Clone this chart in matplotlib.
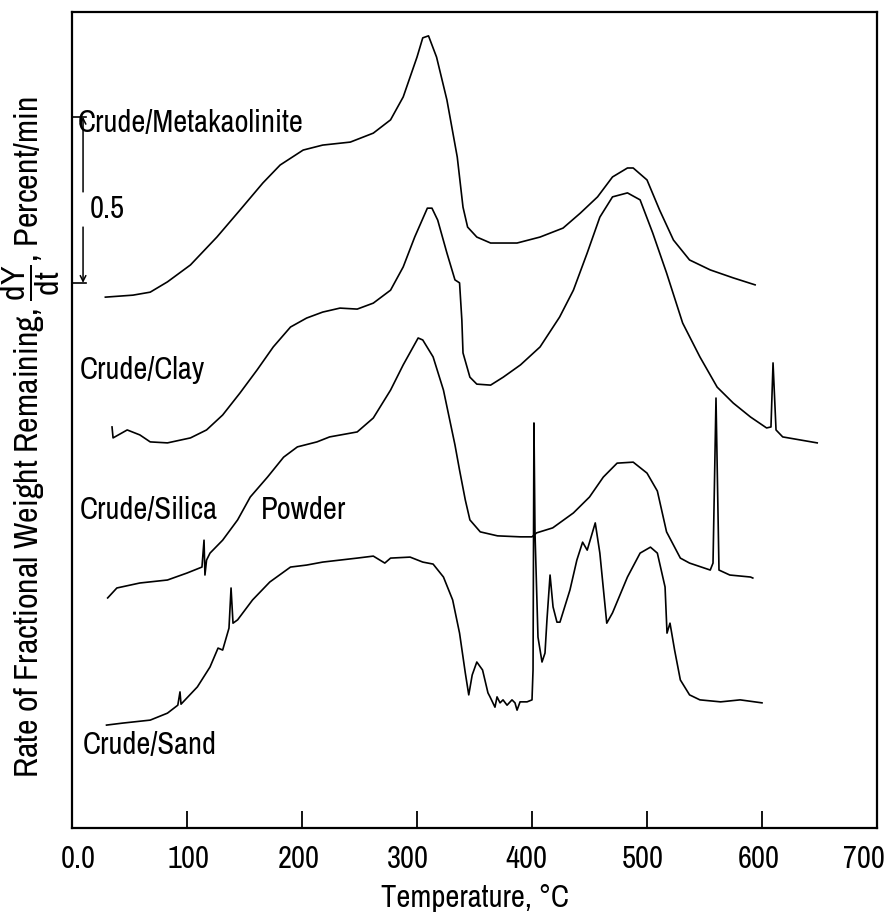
import matplotlib
matplotlib.use("Agg")
import matplotlib.pyplot as plt
from matplotlib import font_manager
from matplotlib.transforms import ScaledTranslation

# use a condensed sans face when one is installed
faces = font_manager.fontManager.ttflist
narrow = [f.name for f in faces if 'Narrow' in f.name or 'Condensed' in f.name]
cond_dejavu = any(f.name == 'DejaVu Sans' and f.stretch == 'condensed' for f in faces)
if narrow:
    FAMILY = [narrow[0], 'DejaVu Sans']
else:
    FAMILY = ['DejaVu Sans']
    if cond_dejavu:
        plt.rcParams['font.stretch'] = 'condensed'
plt.rcParams['font.family'] = FAMILY
plt.rcParams['mathtext.fontset'] = 'custom'
plt.rcParams['mathtext.rm'] = FAMILY[0]
plt.rcParams['mathtext.it'] = FAMILY[0]

# temperature (deg C) and offset rate traces (percent/min, stacked)
meta_t = [29, 53, 68, 83, 103, 126, 146, 166, 181, 201, 218, 242, 262, 277, 288, 300, 305, 310,
          317, 326, 335, 340, 344, 352, 364, 387, 407, 427, 442, 457, 470, 483, 488, 500, 511,
          523, 537, 555, 575, 594]
meta_y = [1.599, 1.605, 1.614, 1.645, 1.696, 1.780, 1.861, 1.943, 1.997, 2.042, 2.057, 2.066,
          2.093, 2.133, 2.202, 2.322, 2.380, 2.386, 2.322, 2.193, 2.021, 1.870, 1.810, 1.780,
          1.762, 1.762, 1.780, 1.807, 1.852, 1.901, 1.961, 1.988, 1.988, 1.952, 1.861, 1.771,
          1.711, 1.681, 1.657, 1.636]

clay_t = [34.8, 35.7, 48, 59, 68, 83, 103, 117, 131, 146, 161, 175, 190, 204, 218, 233, 248, 262,
          277, 288, 298, 309, 313, 318, 326, 333, 337, 339, 340, 346, 352, 364, 375, 390, 407,
          424, 436, 448, 459, 470, 483, 494, 505, 517, 531, 546, 561, 575, 590, 604, 607.8,
          609.6, 612.2, 618, 633, 648]
clay_y = [1.208, 1.175, 1.199, 1.184, 1.163, 1.160, 1.175, 1.199, 1.244, 1.310, 1.380, 1.449,
          1.509, 1.536, 1.554, 1.566, 1.563, 1.581, 1.620, 1.690, 1.780, 1.867, 1.867, 1.831,
          1.732, 1.651, 1.642, 1.530, 1.431, 1.358, 1.337, 1.334, 1.358, 1.395, 1.449, 1.539,
          1.620, 1.732, 1.840, 1.901, 1.913, 1.892, 1.792, 1.672, 1.521, 1.419, 1.328, 1.280,
          1.238, 1.205, 1.208, 1.401, 1.199, 1.178, 1.169, 1.160]

silica_t = [31, 39, 59, 83, 100, 113, 114.8, 115.6, 117, 120, 131, 144, 155, 170, 184, 196, 213,
            224, 248, 262, 277, 288, 301, 305, 314, 323, 333, 337, 342, 346, 355, 370, 390, 400,
            404, 418, 436, 450, 462, 474, 488, 500, 509, 517, 529, 537, 555, 557.4, 560, 562.6,
            572, 590, 592]
silica_y = [0.693, 0.723, 0.738, 0.747, 0.768, 0.786, 0.867, 0.762, 0.807, 0.828, 0.867, 0.928,
            0.997, 1.057, 1.117, 1.148, 1.163, 1.178, 1.193, 1.235, 1.319, 1.395, 1.476, 1.470,
            1.419, 1.319, 1.154, 1.078, 0.988, 0.928, 0.892, 0.880, 0.877, 0.877, 0.889, 0.904,
            0.949, 0.997, 1.057, 1.099, 1.102, 1.069, 1.015, 0.892, 0.813, 0.798, 0.777, 0.798,
            1.295, 0.777, 0.762, 0.756, 0.753]

sand_t = [30, 44, 68, 83, 92, 93.9, 94.8, 109, 120, 127, 131, 136.5, 138.3, 140, 144, 157, 172,
          190, 204, 218, 248, 262, 272, 277, 294, 305, 314, 323, 331, 337, 342, 345, 348, 352,
          357, 361.7, 363.5, 367.8, 369.6, 372.2, 374.8, 378.3, 382.6, 385.2, 387, 389.6, 395.7,
          400, 400.9, 401.7, 402.6, 405.2, 408.7, 411.3, 413, 415.7, 418.3, 421.7, 424.3, 433,
          439, 444, 448, 455, 459, 465, 470, 483, 494, 503, 509, 515.7, 517.4, 520, 524, 529,
          537, 546, 564, 581, 600]
sand_y = [0.310, 0.316, 0.325, 0.346, 0.370, 0.410, 0.373, 0.425, 0.485, 0.542, 0.536, 0.602,
          0.723, 0.617, 0.627, 0.687, 0.741, 0.786, 0.792, 0.801, 0.813, 0.819, 0.798, 0.813,
          0.816, 0.801, 0.795, 0.756, 0.687, 0.587, 0.467, 0.401, 0.461, 0.500, 0.476, 0.407,
          0.395, 0.364, 0.395, 0.377, 0.386, 0.370, 0.386, 0.377, 0.355, 0.380, 0.380, 0.386,
          0.476, 1.220, 0.889, 0.575, 0.500, 0.527, 0.627, 0.762, 0.666, 0.620, 0.620, 0.717,
          0.807, 0.861, 0.837, 0.919, 0.828, 0.617, 0.648, 0.756, 0.828, 0.846, 0.828, 0.726,
          0.587, 0.617, 0.536, 0.446, 0.401, 0.386, 0.380, 0.386, 0.377]

x_ticks = [0, 100, 200, 300, 400, 500, 600, 700]
x_tick_labels = ['0.0', '100', '200', '300', '400', '500', '600', '700']

fig = plt.figure(figsize=(8.89, 9.19), dpi=100)
ax = fig.add_axes([0.081, 0.099, 0.9055, 0.888])

for t, y in [(meta_t, meta_y), (clay_t, clay_y), (silica_t, silica_y), (sand_t, sand_y)]:
    ax.plot(t, y, color='black', linewidth=1.2)

fs = 22
ax.text(5, 2.123, 'Crude/Metakaolinite', fontsize=fs, va='center', ha='left')
ax.text(7, 1.380, 'Crude/Clay', fontsize=fs, va='center', ha='left')
ax.text(7, 0.958, 'Crude/Silica', fontsize=fs, va='center', ha='left')
ax.text(164, 0.958, 'Powder', fontsize=fs, va='center', ha='left')
ax.text(9.5, 0.25, 'Crude/Sand', fontsize=fs, va='center', ha='left')

# 0.5 percent/min scale bar
bar_x, bar_top, bar_bot = 9.6, 2.142, 1.642
ax.plot([0, bar_x + 3], [bar_top, bar_top], color='black', linewidth=1.2)
ax.plot([0, bar_x + 3], [bar_bot, bar_bot], color='black', linewidth=1.2)
ax.annotate('', xy=(bar_x, bar_top), xytext=(bar_x, 1.916),
            arrowprops=dict(arrowstyle='->', color='black', lw=1.1, shrinkA=0, shrinkB=0))
ax.annotate('', xy=(bar_x, bar_bot), xytext=(bar_x, 1.810),
            arrowprops=dict(arrowstyle='->', color='black', lw=1.1, shrinkA=0, shrinkB=0))
ax.text(15.5, 1.865, '0.5', fontsize=fs, va='center', ha='left')

ax.set_xlim(0, 700)
ax.set_ylim(0, 2.458)
ax.set_xticks(x_ticks)
ax.set_xticklabels(x_tick_labels, fontsize=fs)
ax.set_yticks([])
ax.tick_params(axis='x', direction='in', length=12, width=1.3, pad=12)
for s in ax.spines.values():
    s.set_linewidth(1.6)

# nudge the tick labels; the last one has to stay inside the figure
shifts = [6, 1, -3, -9, -6, -4, -3, -13]
for lab, dx in zip(ax.get_xticklabels(), shifts):
    lab.set_transform(lab.get_transform() + ScaledTranslation(dx / 100, 0, fig.dpi_scale_trans))

ax.set_xlabel('Temperature, °C', fontsize=fs, labelpad=8)
fig.text(0.034, 0.5245,
         r'Rate of Fractional Weight Remaining, $\dfrac{\mathrm{dY}}{\mathrm{dt}}$, Percent/min',
         fontsize=24.5, rotation=90, ha='center', va='center')

fig.savefig('out.png', dpi=100)
